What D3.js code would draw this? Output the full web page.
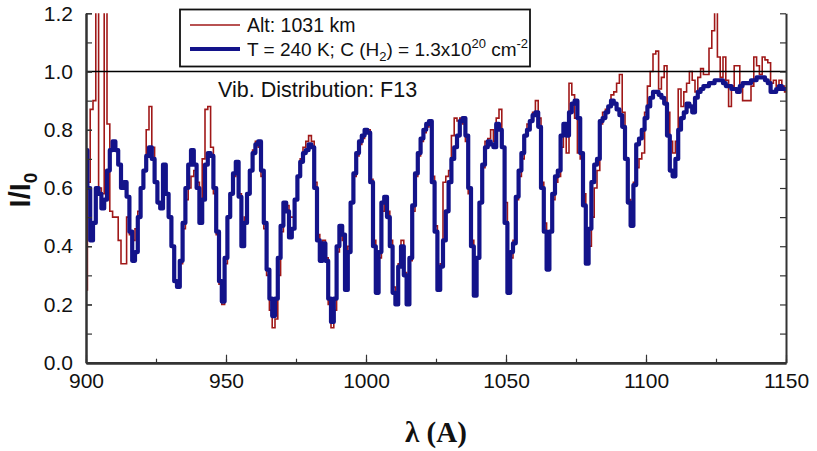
<!DOCTYPE html>
<html><head><meta charset="utf-8">
<script src="https://cdn.jsdelivr.net/npm/d3@7"></script>
<style>body{margin:0;background:#fff} svg{display:block}</style>
</head><body>
<svg id="chart" width="817" height="451"></svg>
<script>
// Wavelength grid (Angstrom), 1 A bins from 900 to 1150
const wavelengths = d3.range(900, 1151, 1);

// Observed spectrum, Alt: 1031 km (red)
const observed = [
0.25,0.62,0.87,0.90,1.30,0.60,0.58,1.30,0.82,0.52,
0.50,0.50,0.42,0.34,0.34,0.50,0.44,0.42,0.46,0.52,
0.60,0.66,0.80,0.88,0.74,0.62,0.55,0.53,0.66,0.58,
0.50,0.40,0.28,0.27,0.34,0.46,0.56,0.60,0.64,0.66,
0.62,0.55,0.70,0.87,0.88,0.74,0.58,0.44,0.27,0.20,
0.34,0.50,0.58,0.64,0.68,0.58,0.44,0.50,0.58,0.66,
0.73,0.76,0.74,0.64,0.46,0.30,0.18,0.12,0.15,0.30,
0.45,0.55,0.54,0.50,0.50,0.56,0.64,0.70,0.74,0.76,
0.78,0.76,0.62,0.44,0.36,0.42,0.36,0.20,0.12,0.18,
0.38,0.46,0.42,0.28,0.40,0.55,0.64,0.71,0.75,0.77,
0.79,0.80,0.63,0.42,0.25,0.36,0.52,0.56,0.52,0.42,
0.26,0.21,0.34,0.42,0.31,0.22,0.35,0.52,0.64,0.71,
0.76,0.79,0.81,0.82,0.64,0.47,0.28,0.34,0.62,0.64,
0.66,0.78,0.84,0.83,0.84,0.82,0.76,0.58,0.42,0.25,
0.36,0.55,0.67,0.76,0.77,0.80,0.76,0.84,0.87,0.74,
0.55,0.27,0.36,0.42,0.56,0.64,0.70,0.78,0.82,0.83,
0.86,0.90,0.84,0.62,0.48,0.35,0.45,0.56,0.62,0.64,
0.74,0.80,0.72,0.96,0.92,0.84,0.72,0.70,0.58,0.38,
0.40,0.50,0.60,0.66,0.82,0.86,0.87,0.88,0.92,0.93,
0.96,0.99,0.86,0.70,0.56,0.50,0.62,0.67,0.70,0.72,
0.86,0.95,1.00,1.06,1.07,0.94,0.98,1.02,0.86,0.76,
0.72,0.76,0.94,0.88,0.93,0.96,1.00,0.97,0.93,0.98,
1.01,0.99,0.99,1.08,1.14,1.22,1.05,0.98,1.05,0.97,
0.88,0.95,1.02,1.02,0.95,0.90,0.90,0.90,0.95,1.05,
1.02,0.99,1.05,1.04,1.03,0.96,0.97,0.95,0.97,0.95,
0.93];

// Model: T = 240 K; C(H2) = 1.3e20 cm^-2 (blue)
const model = [
0.73,0.60,0.42,0.48,0.60,0.58,0.53,0.56,0.66,0.73,
0.76,0.73,0.68,0.60,0.62,0.57,0.45,0.35,0.38,0.50,
0.60,0.66,0.71,0.74,0.70,0.62,0.55,0.53,0.68,0.58,
0.50,0.40,0.28,0.26,0.35,0.48,0.60,0.68,0.73,0.68,
0.60,0.48,0.56,0.68,0.72,0.71,0.60,0.45,0.28,0.21,
0.36,0.50,0.58,0.65,0.69,0.57,0.40,0.48,0.58,0.66,
0.72,0.75,0.76,0.66,0.48,0.32,0.22,0.16,0.22,0.36,
0.47,0.55,0.52,0.43,0.46,0.56,0.64,0.69,0.72,0.73,
0.75,0.74,0.60,0.42,0.35,0.41,0.35,0.22,0.14,0.22,
0.40,0.47,0.44,0.25,0.38,0.55,0.65,0.72,0.76,0.78,
0.80,0.79,0.62,0.40,0.24,0.38,0.55,0.57,0.50,0.40,
0.24,0.20,0.33,0.40,0.30,0.20,0.36,0.54,0.65,0.72,
0.77,0.80,0.82,0.83,0.62,0.45,0.25,0.33,0.42,0.52,
0.62,0.70,0.74,0.78,0.83,0.84,0.78,0.60,0.40,0.23,
0.36,0.55,0.68,0.74,0.76,0.75,0.74,0.82,0.80,0.74,
0.48,0.24,0.38,0.41,0.57,0.66,0.72,0.78,0.80,0.83,
0.85,0.86,0.81,0.60,0.45,0.32,0.45,0.58,0.64,0.66,
0.78,0.82,0.78,0.86,0.89,0.90,0.84,0.72,0.54,0.34,
0.46,0.62,0.68,0.70,0.83,0.84,0.86,0.88,0.90,0.89,
0.87,0.85,0.81,0.70,0.55,0.47,0.61,0.75,0.77,0.80,
0.84,0.88,0.91,0.93,0.93,0.92,0.91,0.89,0.78,0.66,
0.64,0.70,0.80,0.84,0.86,0.89,0.88,0.86,0.91,0.93,
0.94,0.95,0.95,0.96,0.96,0.97,0.97,0.97,0.96,0.95,
0.95,0.94,0.94,0.93,0.95,0.96,0.96,0.96,0.97,0.97,
0.98,0.98,0.98,0.97,0.96,0.93,0.93,0.94,0.95,0.94,
0.94];

const xTickLabels = [900, 950, 1000, 1050, 1100, 1150];
const xMinorTicks = [900, 925, 950, 975, 1000, 1025, 1050, 1075, 1100, 1125, 1150];
const yTickLabels = [0, 0.2, 0.4, 0.6, 0.8, 1.0, 1.2];
const yMinorTicks = [0,0.1,0.2,0.3,0.4,0.5,0.6,0.7,0.8,0.9,1.0,1.1,1.2];
const referenceLevel = 1.0;
const seriesNames = ["Alt: 1031 km", "model"];

const svg = d3.select("#chart");
const L = 86, R = 786, T = 13.3, B = 362.7;
const x = d3.scaleLinear().domain([900, 1150]).range([L, R]);
const y = d3.scaleLinear().domain([0, 1.2]).range([B, T]);
const axisColor = "#333";
const tickFont = "Liberation Sans, Arial, sans-serif";

svg.append("defs").append("clipPath").attr("id", "plotclip")
  .append("rect").attr("x", L).attr("y", T).attr("width", R - L).attr("height", B - T);

// series
const line = d3.line().x((d, i) => x(wavelengths[i])).y(d => y(d)).curve(d3.curveStep);
const plot = svg.append("g").attr("clip-path", "url(#plotclip)");
plot.append("path").datum(observed).attr("d", line)
  .attr("fill", "none").attr("stroke", "#a01818").attr("stroke-width", 1.6);
plot.append("path").datum(model).attr("d", line)
  .attr("fill", "none").attr("stroke", "#13138a").attr("stroke-width", 4.2)
  .attr("stroke-linejoin", "round");

// reference line at 1.0
svg.append("line").attr("x1", L).attr("x2", R)
  .attr("y1", y(referenceLevel)).attr("y2", y(referenceLevel))
  .attr("stroke", "#000").attr("stroke-width", 1.6);

function styleAxis(g, w) {
  g.select(".domain").attr("stroke", axisColor).attr("stroke-width", w);
  g.selectAll(".tick line").attr("stroke", axisColor).attr("stroke-width", 1.2);
  g.selectAll("text").attr("font-family", tickFont).attr("font-size", 21).attr("fill", "#111");
}

// bottom axis
svg.append("g").attr("transform", `translate(0,${B})`)
  .call(d3.axisBottom(x).tickValues(xMinorTicks).tickSizeInner(-4).tickSizeOuter(0).tickFormat(""))
  .call(g => styleAxis(g, 2.4));
svg.append("g").attr("transform", `translate(0,${B})`)
  .call(d3.axisBottom(x).tickValues(xTickLabels).tickSizeInner(-8).tickSizeOuter(0).tickPadding(10).tickFormat(d3.format("d")))
  .call(g => { styleAxis(g, 2.4); });

// left axis
svg.append("g").attr("transform", `translate(${L},0)`)
  .call(d3.axisLeft(y).tickValues(yMinorTicks).tickSizeInner(-6).tickSizeOuter(0).tickFormat(""))
  .call(g => styleAxis(g, 2));
svg.append("g").attr("transform", `translate(${L},0)`)
  .call(d3.axisLeft(y).tickValues(yTickLabels).tickSizeInner(-6).tickSizeOuter(0).tickPadding(13).tickFormat(d3.format(".1f")))
  .call(g => styleAxis(g, 2));

// right axis
svg.append("g").attr("transform", `translate(${R},0)`)
  .call(d3.axisRight(y).tickValues(yMinorTicks).tickSizeInner(-6).tickSizeOuter(0).tickFormat(""))
  .call(g => styleAxis(g, 2));

// axis titles
svg.append("text").attr("x", 436).attr("y", 442).attr("text-anchor", "middle")
  .attr("font-family", "Liberation Serif, Times New Roman, serif").attr("font-weight", "bold")
  .attr("font-size", 29).attr("fill", "#111").text("λ (A)");

const yt = svg.append("text").attr("transform", "translate(30,190) rotate(-90)")
  .attr("text-anchor", "middle").attr("font-family", tickFont).attr("font-weight", "bold")
  .attr("font-size", 29).attr("fill", "#111");
yt.append("tspan").text("I/I");
yt.append("tspan").attr("font-size", 19).attr("dy", 7).text("0");

// legend
const lg = svg.append("g");
lg.append("rect").attr("x", 180).attr("y", 9.5).attr("width", 350).attr("height", 57)
  .attr("fill", "#fff").attr("stroke", "#111").attr("stroke-width", 1.8);
lg.append("line").attr("x1", 190).attr("x2", 240).attr("y1", 25).attr("y2", 25)
  .attr("stroke", "#a01818").attr("stroke-width", 1.6);
lg.append("line").attr("x1", 190).attr("x2", 240).attr("y1", 49).attr("y2", 49)
  .attr("stroke", "#13138a").attr("stroke-width", 4.2);
lg.append("text").attr("x", 247).attr("y", 31.5).attr("font-family", tickFont)
  .attr("font-size", 19.5).attr("fill", "#111").text(seriesNames[0]);
const t2 = lg.append("text").attr("x", 247).attr("y", 56).attr("font-family", tickFont)
  .attr("font-size", 19).attr("fill", "#111");
t2.append("tspan").text("T = 240 K; C (H");
t2.append("tspan").attr("font-size", 13).attr("dy", 5).text("2");
t2.append("tspan").attr("dy", -5).text(") = 1.3x10");
t2.append("tspan").attr("font-size", 13).attr("dy", -8).text("20");
t2.append("tspan").attr("dy", 8).text(" cm");
t2.append("tspan").attr("font-size", 13).attr("dy", -8).text("-2");

svg.append("text").attr("x", 218).attr("y", 97).attr("font-family", tickFont)
  .attr("font-size", 21.5).attr("fill", "#111").text("Vib. Distribution: F13");
</script>
</body></html>
